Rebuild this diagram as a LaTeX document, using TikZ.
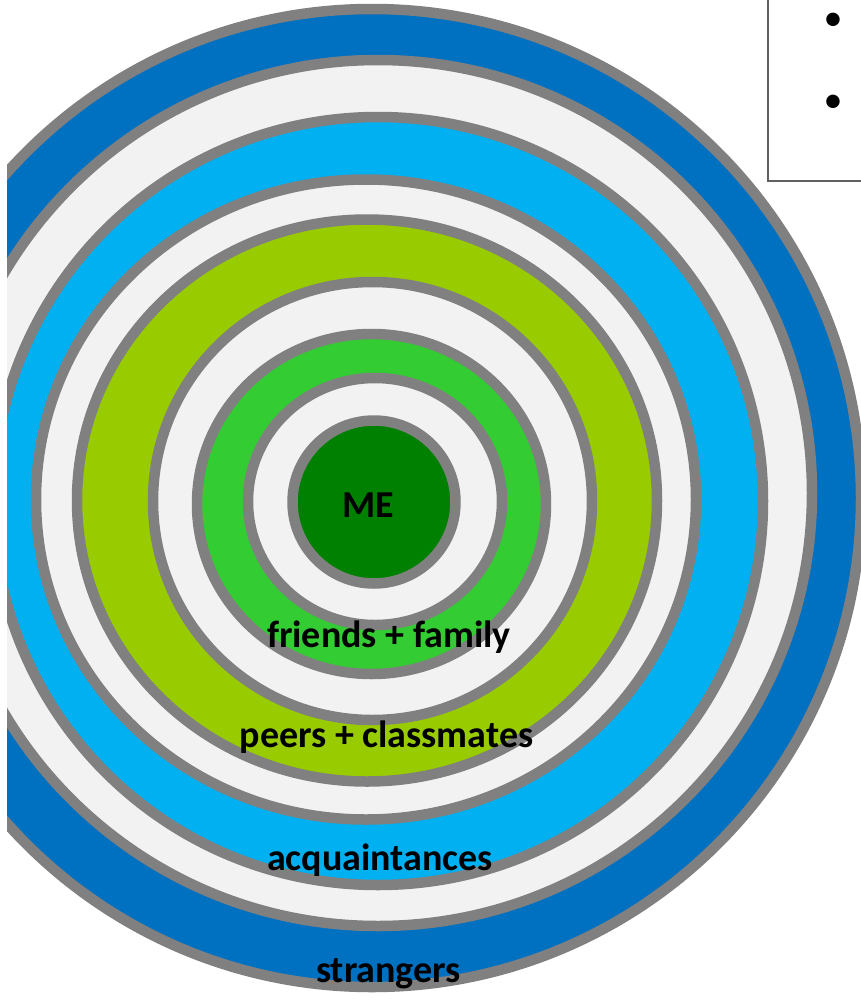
\documentclass[tikz,border=0pt]{standalone}
\usepackage{fontspec}
\setmainfont{Carlito}
\definecolor{ringgray}{HTML}{808080}
\definecolor{bluedark}{HTML}{0070C0}
\definecolor{bluelight}{HTML}{00B0F0}
\definecolor{ringlight}{HTML}{F2F2F2}
\definecolor{yelgreen}{HTML}{99CC00}
\definecolor{midgreen}{HTML}{33CC33}
\definecolor{darkgreen}{HTML}{008000}
\definecolor{boxedge}{HTML}{606060}
\tikzset{
  ring/.style={draw=ringgray, line width=10.5pt},
  lbl/.style={font=\bfseries\fontsize{38}{42}\selectfont, text=black, anchor=base, inner sep=0pt},
  bul/.style={font=\fontsize{38}{40}\selectfont, text=black, inner sep=0pt}
}
\begin{document}
\begin{tikzpicture}[x=1pt,y=-1pt]
\useasboundingbox (0,0) rectangle (861,1002);
\begin{scope}
\clip (7,-20) rectangle (880,1020);
\draw[ring, fill=bluedark]   (372,498)   ellipse [x radius=489pt, y radius=489pt];
\draw[ring, fill=ringlight]  (378,493)   ellipse [x radius=434pt, y radius=433pt];
\draw[ring, fill=bluelight]  (378,501)   ellipse [x radius=385pt, y radius=384pt];
\draw[ring, fill=ringlight]  (366,499.5) ellipse [x radius=330pt, y radius=320pt];
\draw[ring, fill=yelgreen]   (367,500.5) ellipse [x radius=290pt, y radius=281pt];
\draw[ring, fill=ringlight]  (372.5,501) ellipse [x radius=219.5pt, y radius=219pt];
\draw[ring, fill=midgreen]   (371.5,504) ellipse [x radius=174.5pt, y radius=170pt];
\draw[ring, fill=ringlight]  (375,501.5) ellipse [x radius=127pt, y radius=123.5pt];
\draw[ring, fill=darkgreen]  (374,502)   ellipse [x radius=81.5pt, y radius=81.5pt];
\end{scope}
\node[lbl] (me) at (368.5,517) {ME};
\node[lbl] (friends) at (389,647) {friends + family};
\node[lbl] (peers) at (386.5,747) {peers + classmates};
\node[lbl] (acq) at (380,870) {acquaintances};
\node[lbl] (str) at (388.5,982) {strangers};
\coordinate (boxtop) at (768,-5);
\coordinate (boxcorner) at (768,181);
\coordinate (boxright) at (870,181);
\draw[draw=boxedge, line width=1.5pt] (boxtop) -- (boxcorner) -- (boxright);
\node[bul] (b1) at (833,22) {•};
\node[bul] (b2) at (833,104) {•};
\end{tikzpicture}
\end{document}
